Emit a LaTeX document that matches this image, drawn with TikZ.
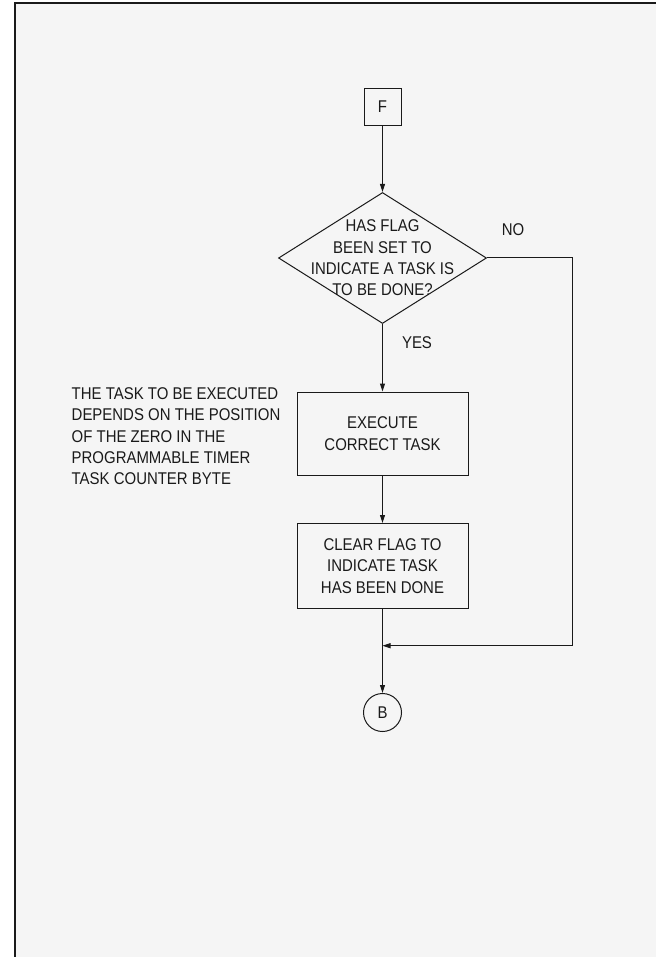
\documentclass[tikz,border=0pt]{standalone}
\usepackage{fontspec}
\setmainfont{Liberation Sans}[FakeStretch=0.88]
\usetikzlibrary{shapes.geometric,arrows.meta}
\definecolor{bgray}{HTML}{F5F5F5}
\definecolor{ink}{HTML}{1A1A1A}
\begin{document}
\begin{tikzpicture}[x=1pt,y=-1pt,
  every node/.style={text=ink, font=\fontsize{17}{21.3}\selectfont},
  lin/.style={draw=ink, line width=1pt},
  arr/.style={lin, -{Triangle[length=8pt,width=5pt]}},
  txt/.style={align=center, inner sep=0pt},
  termbox/.style={lin, rectangle, minimum width=37pt, minimum height=37pt, inner sep=0pt},
  procbox/.style={lin, rectangle, minimum width=171pt, align=center, inner sep=0pt},
  decbox/.style={lin, diamond, minimum width=208pt, minimum height=131pt, inner sep=0pt},
  conn/.style={lin, circle, minimum size=38pt, inner sep=0pt}]
\useasboundingbox (0,0) rectangle (656,957);
\fill[white] (0,0) rectangle (656,957);
\fill[bgray] (15,3) rectangle (656,957);
\draw[line width=1.3pt, draw=ink] (15,957) -- (15,3) -- (656,3);

\node[termbox] (F) at (382.5,107) {F};
\node[decbox] (dec) at (382.5,258) {};
\node[txt] (dect) at (dec.center) {HAS FLAG\\BEEN SET TO\\INDICATE A TASK IS\\TO BE DONE?};
\node[procbox, minimum height=83pt] (exec) at (382.5,433.5) {EXECUTE\\CORRECT TASK};
\node[procbox, minimum height=85pt] (clear) at (382.5,566) {CLEAR FLAG TO\\INDICATE TASK\\HAS BEEN DONE};
\node[conn] (B) at (382.5,712.5) {B};
\node[txt, anchor=west, align=left] (note) at (71.5,436.4) {THE TASK TO BE EXECUTED\\DEPENDS ON THE POSITION\\OF THE ZERO IN THE\\PROGRAMMABLE TIMER\\TASK COUNTER BYTE};
\node[txt] (no) at (513,230) {NO};
\node[txt] (yes) at (417,343) {YES};
\coordinate (nb) at (572.3,645.7);
\coordinate (mj) at (382.5,645.7);

\draw[arr] (F) -- (dec.north);
\draw[arr] (dec.south) -- (exec);
\draw[arr] (exec) -- (clear);
\draw[arr] (clear) -- (B);
\draw[arr] (dec.east) -| (nb) -- (mj);
\end{tikzpicture}
\end{document}
